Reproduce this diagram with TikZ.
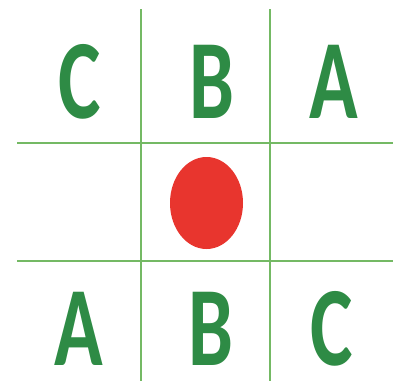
\documentclass[tikz,border=0pt]{standalone}
\usepackage{fontspec}
\setmainfont{Carlito}
\usetikzlibrary{shapes.geometric}
\definecolor{lettergreen}{HTML}{2E8B45}
\definecolor{gridgreen}{HTML}{74B964}
\definecolor{dotred}{HTML}{E8352E}
\newcommand{\narrow}[1]{\scalebox{0.71}[1]{#1}}

\begin{document}
\begin{tikzpicture}[
    x=1pt, y=-1pt,
    letter/.style={text=lettergreen, font=\fontsize{113}{113}\selectfont\bfseries, inner sep=0pt, anchor=center},
    gridline/.style={draw=gridgreen, line width=2.8pt},
    dot/.style={ellipse, fill=dotred, minimum width=73pt, minimum height=92pt, inner sep=0pt}
]
\useasboundingbox (0,0) rectangle (399,381);

% Gitter
\foreach \x in {141,270} \draw[gridline] (\x,9) -- (\x,381);
\foreach \y in {143,261} \draw[gridline] (17,\y) -- (393,\y);

% obere Reihe
\node[letter] (topC) at (80,82) {\narrow{C}};
\node[letter] (topB) at (212,82) {\narrow{B}};
\node[letter] (topA) at (334,82) {\narrow{A}};

% Mitte
\node[dot] (mid) at (206.5,203) {};

% untere Reihe
\node[letter] (botA) at (79,329) {\narrow{A}};
\node[letter] (botB) at (211,329) {\narrow{B}};
\node[letter] (botC) at (332,329) {\narrow{C}};

\end{tikzpicture}
\end{document}
